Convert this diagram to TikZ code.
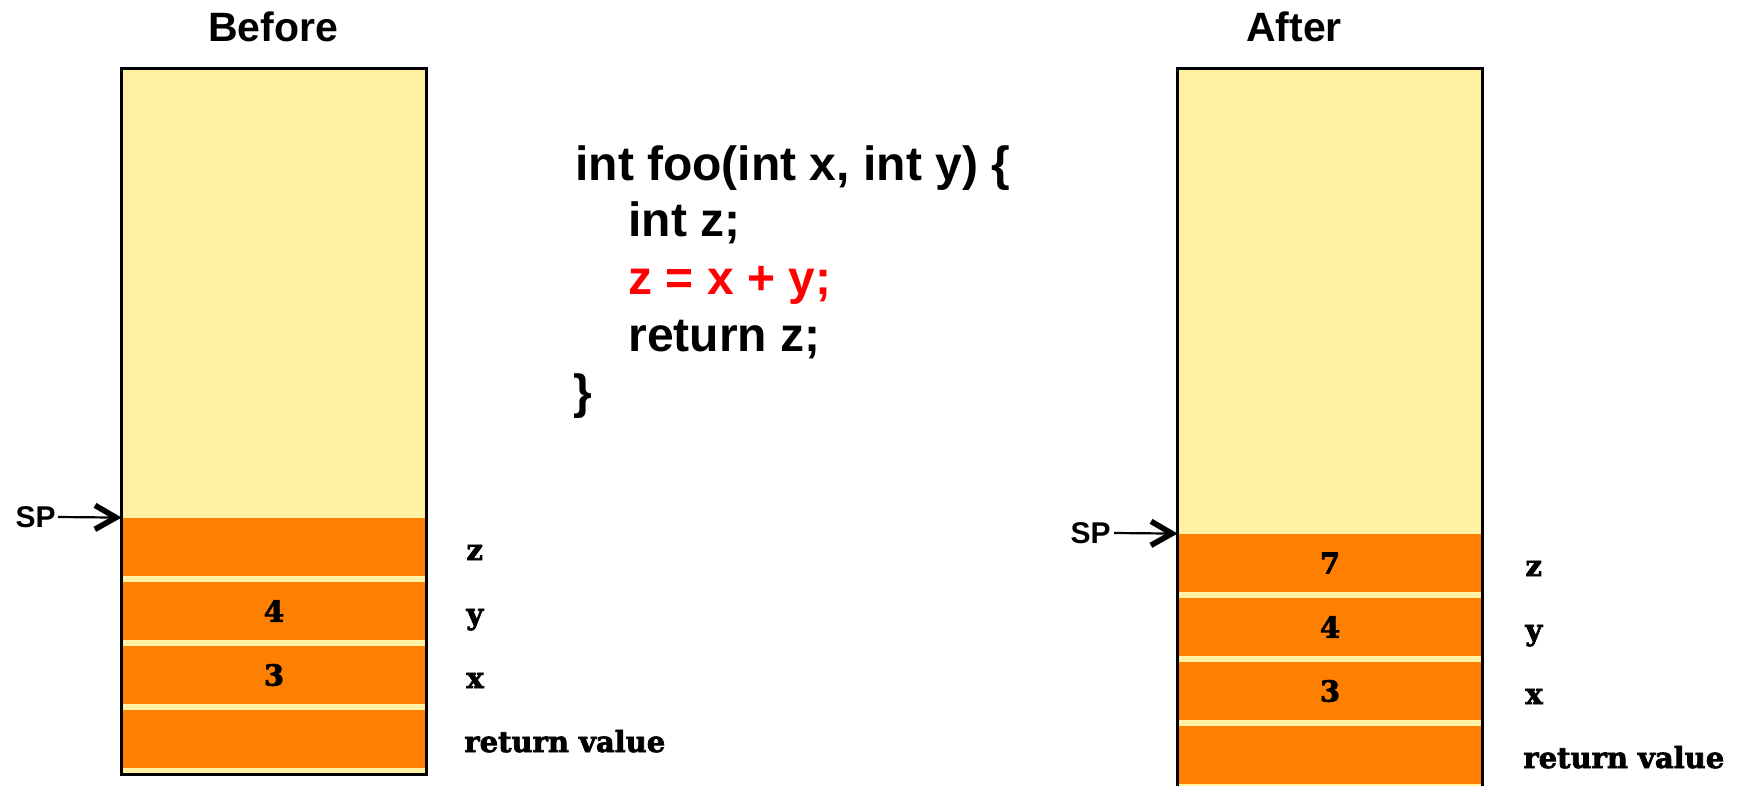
\documentclass[tikz,border=0pt]{standalone}
\usepackage{fontspec}
\setmainfont{Liberation Sans}
\newfontfamily\slabfont[FakeBold=2.5]{DejaVu Serif}
\usetikzlibrary{arrows.meta}
\definecolor{paleyellow}{HTML}{FFF1A2}
\definecolor{stackorange}{HTML}{FF7F00}
\definecolor{codered}{HTML}{FF0000}
\begin{document}
\begin{tikzpicture}[x=0.5pt,y=-0.5pt,
  title/.style={font=\fontsize{20.5}{24}\selectfont\bfseries, anchor=base, inner sep=0},
  code/.style={font=\fontsize{24}{28}\selectfont\bfseries, anchor=base west, inner sep=0},
  sptext/.style={font=\fontsize{15}{18}\selectfont\bfseries, inner sep=0},
  stackbox/.style={fill=paleyellow, minimum width=152pt, inner sep=0},
  slot/.style={fill=stackorange, minimum width=152pt, minimum height=29pt, inner sep=0,
    font=\slabfont\fontsize{14.5}{17}\selectfont\bfseries},
  lab/.style={font=\slabfont\fontsize{14.5}{17}\selectfont\bfseries, anchor=base west, inner sep=0},
  ptr/.style={-{Straight Barb[length=10.5pt,width=12pt,line width=2.8pt]}, line width=1.1pt},
  border/.style={line width=1.5pt}
]
\useasboundingbox (0,0) rectangle (1740,786);

% titles
\node[title] (before) at (273,42) {Before};
\node[title] (after) at (1294,42) {After};

% left stack
\node[stackbox, minimum height=352.5pt] (boxL) at (274,421.5) {};
\node[slot] (zL) at (274,547) {};
\node[slot] (yL) at (274,611) {4};
\node[slot] (xL) at (274,675) {3};
\node[slot] (rL) at (274,739) {};
\draw[border] (boxL.north west) rectangle (boxL.south east);

% right stack
\node[stackbox, minimum height=360.5pt] (boxR) at (1330,429.5) {};
\node[slot] (zR) at (1330,563) {7};
\node[slot] (yR) at (1330,627) {4};
\node[slot] (xR) at (1330,691) {3};
\node[slot] (rR) at (1330,755) {};
\draw[border] (boxR.north west) rectangle (boxR.south east);

% labels
\node[lab] (lzL) at (466,560) {z};
\node[lab] (lyL) at (466,624) {y};
\node[lab] (lxL) at (466,688) {x};
\node[lab] (lrL) at (464,752) {return value};
\node[lab] (lzR) at (1525,576) {z};
\node[lab] (lyR) at (1525,640) {y};
\node[lab] (lxR) at (1525,704) {x};
\node[lab] (lrR) at (1523,768) {return value};

% stack pointers
\node[sptext, anchor=east] (spL) at (56,517) {SP};
\path (spL.east) ++(2,0) coordinate (spLs);
\draw[ptr] (spLs) -- (zL.north west);
\node[sptext, anchor=east] (spR) at (1111,533) {SP};
\path (spR.east) ++(3,0) coordinate (spRs);
\draw[ptr] (spRs) -- (zR.north west);

% code
\node[code] (c1) at (575,181) {int foo(int x, int y) \{};
\node[code] (c2) at (628,237) {int z;};
\node[code, text=codered] (c3) at (628,294) {z = x + y;};
\node[code] (c4) at (628,351) {return z;};
\node[code] (c5) at (573,408) {\}};
\end{tikzpicture}
\end{document}
